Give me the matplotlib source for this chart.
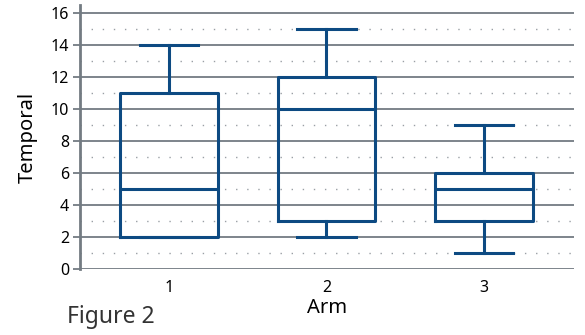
import matplotlib
matplotlib.use("Agg")
import matplotlib.pyplot as plt
from matplotlib.ticker import MultipleLocator

arms = ["1", "2", "3"]
whislo = [2, 2, 1]
q1 = [2, 3, 3]
med = [5, 10, 5]
q3 = [11, 12, 6]
whishi = [14, 15, 9]

plt.rcParams['font.family'] = ['Noto Sans', 'DejaVu Sans']

fig = plt.figure(figsize=(5.85, 3.35), dpi=100)
ax = fig.add_axes([0.137, 0.197, 0.844, 0.788])

stats = [dict(label=a, whislo=lo, q1=a1, med=m, q3=a3, whishi=hi, fliers=[])
         for a, lo, a1, m, a3, hi in zip(arms, whislo, q1, med, q3, whishi)]
col = '#0d4a82'
lw = 2.2
ax.bxp(stats, positions=[1, 2, 3], widths=0.62, showfliers=False,
       boxprops=dict(color=col, linewidth=lw),
       medianprops=dict(color=col, linewidth=lw),
       whiskerprops=dict(color=col, linewidth=lw),
       capprops=dict(color=col, linewidth=lw),
       capwidths=0.37, zorder=3)

ax.set_xlim(0.437, 3.57)
ax.set_ylim(0, 16.5)
ax.yaxis.set_major_locator(MultipleLocator(2))
ax.yaxis.set_minor_locator(MultipleLocator(1))
ax.grid(axis='y', which='major', color='#737b82', linewidth=1.3, zorder=0)
ax.grid(axis='y', which='minor', color='#9a9fa5', linewidth=1.0, linestyle=(0, (1, 7)), zorder=0)
for s in ['top', 'right', 'bottom']:
    ax.spines[s].set_visible(False)
ax.spines['left'].set_color('#737b82')
ax.spines['left'].set_linewidth(2)
ax.tick_params(axis='y', which='major', length=5, width=1.3, color='#737b82', labelsize=11.5, pad=3)
ax.tick_params(axis='y', which='minor', length=0)
ax.tick_params(axis='x', length=0, labelsize=11.5, pad=8)
ax.set_ylabel('Temporal', fontsize=14.5, labelpad=9)
ax.set_xlabel('Arm', fontsize=14.5, labelpad=1)
fig.text(0.114, 0.035, 'Figure 2', fontsize=16.5, color='#333333')

fig.savefig('out.png', dpi=100)
